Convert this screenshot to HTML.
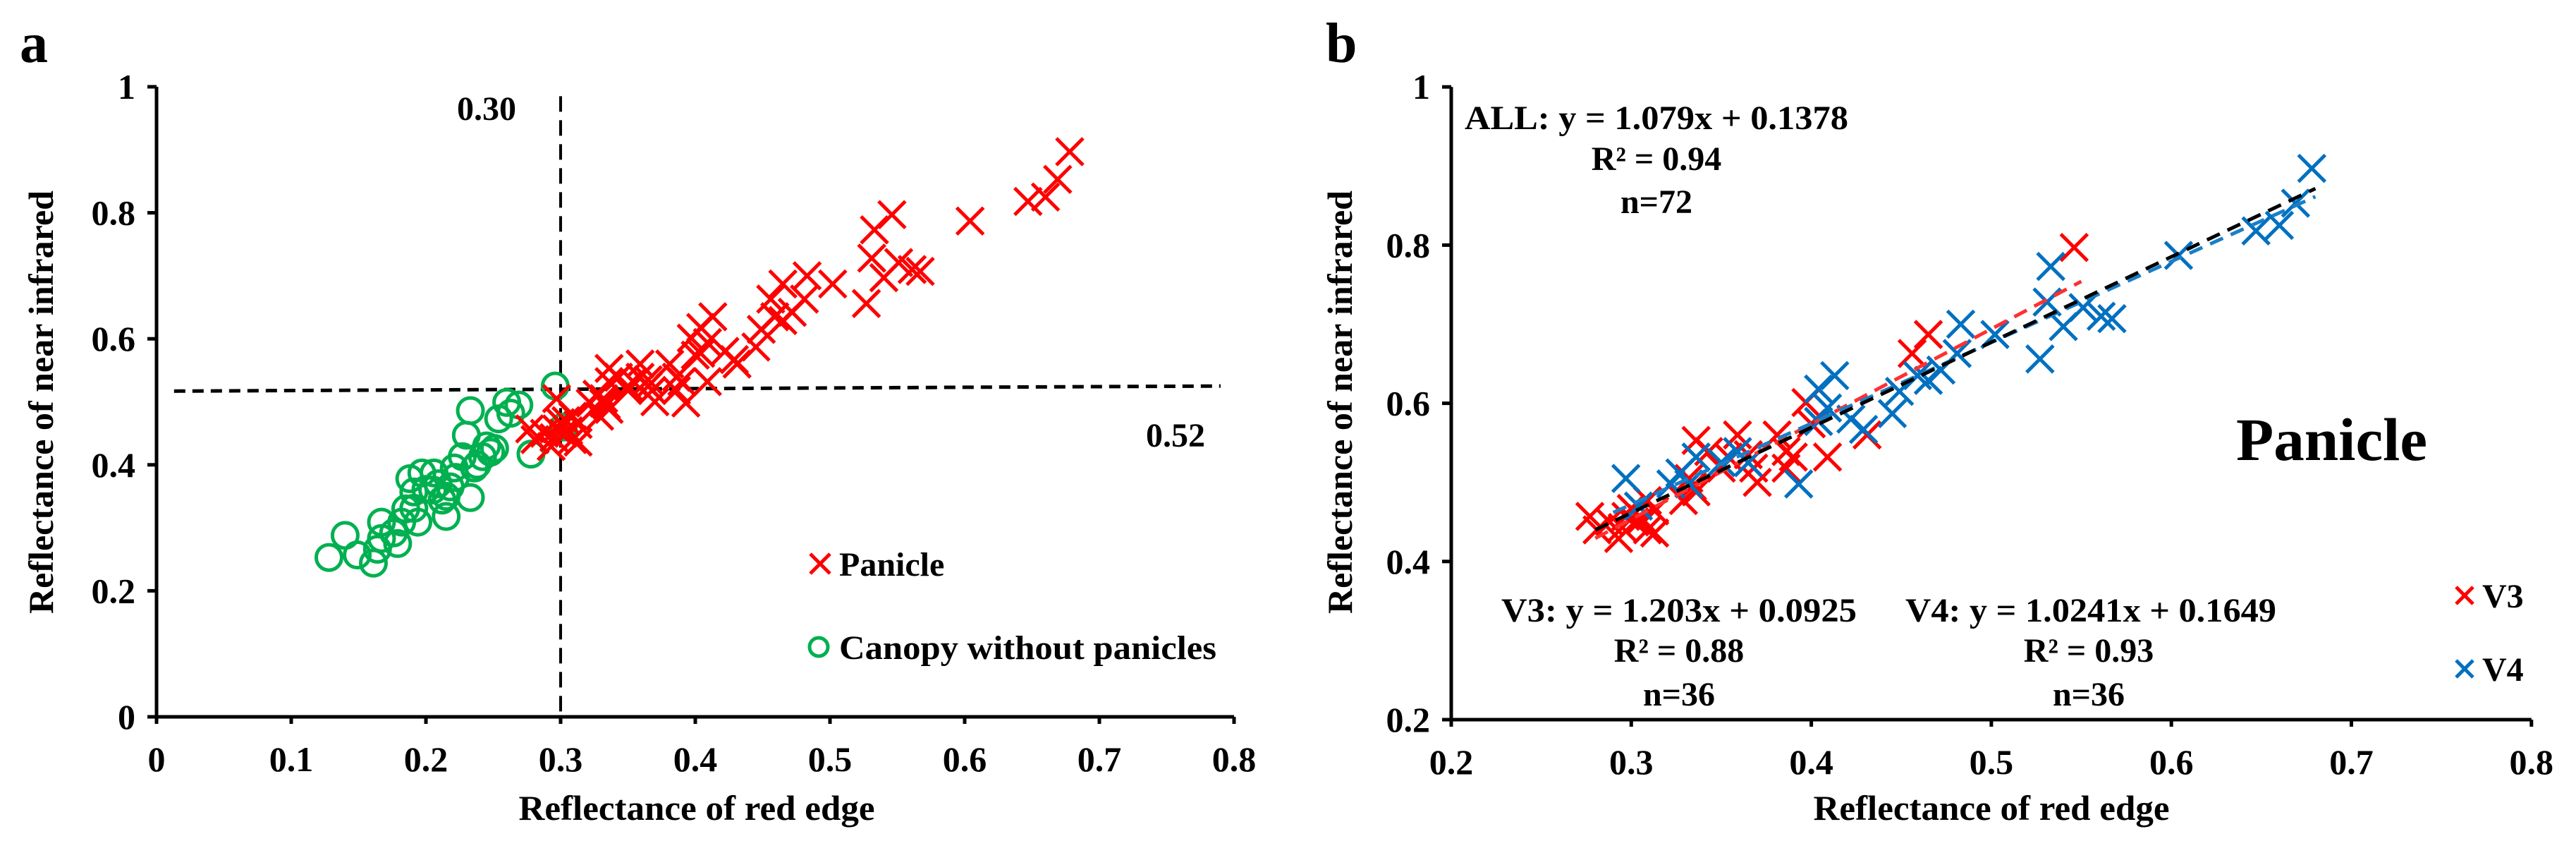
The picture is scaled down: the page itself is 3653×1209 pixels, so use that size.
<!DOCTYPE html>
<html><head><meta charset="utf-8"><style>
html,body{margin:0;padding:0;background:#fff;}
svg{display:block;}
text{font-family:"Liberation Serif",serif;font-weight:bold;fill:#000;}
</style></head><body>
<svg id="fig" width="3653" height="1209" viewBox="0 0 3653 1209">
  <g id="pa"></g>
  <g id="pb"></g>
</svg>
<script>
// ---- data ----
const v3x = [0.546,0.465,0.456,0.397,0.381,0.386,0.39,0.409,0.431,0.359,0.354,0.368,0.37,0.336,0.332,0.336,0.329,0.309,0.30,0.302,0.309,0.313,0.295,0.293,0.288,0.277,0.281,0.343,0.40,0.365,0.297,0.306,0.35,0.334,0.386,0.313];
const v3y = [0.797,0.687,0.663,0.601,0.56,0.539,0.532,0.532,0.56,0.56,0.532,0.518,0.50,0.553,0.505,0.488,0.477,0.477,0.467,0.45,0.44,0.436,0.443,0.429,0.45,0.457,0.44,0.539,0.574,0.535,0.457,0.454,0.518,0.495,0.518,0.464];
const v4x = [0.678,0.669,0.66,0.647,0.604,0.533,0.531,0.54,0.527,0.551,0.561,0.567,0.502,0.483,0.481,0.472,0.465,0.459,0.449,0.445,0.413,0.404,0.409,0.404,0.422,0.429,0.393,0.359,0.365,0.35,0.336,0.327,0.332,0.297,0.304,0.322];
const v4y = [0.897,0.853,0.825,0.818,0.787,0.773,0.728,0.697,0.656,0.721,0.71,0.707,0.687,0.70,0.663,0.642,0.629,0.635,0.615,0.587,0.635,0.618,0.594,0.577,0.58,0.567,0.498,0.539,0.525,0.525,0.532,0.512,0.498,0.505,0.47,0.498];
const canX = [0.128,0.14,0.149,0.161,0.164,0.167,0.167,0.176,0.179,0.182,0.188,0.191,0.194,0.191,0.2,0.206,0.212,0.215,0.218,0.221,0.227,0.23,0.233,0.233,0.236,0.242,0.245,0.251,0.254,0.26,0.263,0.269,0.278,0.296,0.302,0.209,0.197,0.185,0.222,0.238,0.248,0.215,0.205];
const canY = [0.253,0.288,0.257,0.244,0.266,0.309,0.283,0.292,0.275,0.309,0.378,0.357,0.309,0.331,0.361,0.387,0.344,0.318,0.365,0.395,0.413,0.447,0.486,0.348,0.395,0.413,0.43,0.426,0.473,0.499,0.482,0.495,0.417,0.525,0.46,0.37,0.387,0.33,0.38,0.40,0.42,0.35,0.36];
const xTicksA = [0,0.1,0.2,0.3,0.4,0.5,0.6,0.7,0.8];
const yTicksA = [0,0.2,0.4,0.6,0.8,1];
const xTicksB = [0.2,0.3,0.4,0.5,0.6,0.7,0.8];
const yTicksB = [0.2,0.4,0.6,0.8,1];
const fitAll = [1.079,0.1378];
const fitV3 = [1.203,0.0925];
const fitV4 = [1.0241,0.1649];

const NS = "http://www.w3.org/2000/svg";
function mk(parent, tag, attrs, txt){
  const e = document.createElementNS(NS, tag);
  for (const k in attrs) e.setAttribute(k, attrs[k]);
  if (txt !== undefined) e.textContent = txt;
  parent.appendChild(e);
  return e;
}
function fmt(v){ return (v===0||v===1) ? String(v) : v.toFixed(1); }

function axes(g, X, Y, xt, yt, x0, x1, y0, y1){
  let e;
  e = mk(g,'line',{x1:X(x0),y1:Y(y0),x2:X(x1),y2:Y(y0),stroke:'#000','stroke-width':5});
   
  e = mk(g,'line',{x1:X(x0),y1:Y(y0),x2:X(x0),y2:Y(y1),stroke:'#000','stroke-width':5});
   
  xt.forEach(v=>{
    mk(g,'line',{x1:X(v),y1:Y(y0),x2:X(v),y2:Y(y0)+10,stroke:'#000','stroke-width':5});
    e = mk(g,'text',{x:X(v),y:Y(y0)+77,'font-size':50,'text-anchor':'middle'},fmt(v));
     
  });
  yt.forEach(v=>{
    mk(g,'line',{x1:X(x0)-13,y1:Y(v),x2:X(x0),y2:Y(v),stroke:'#000','stroke-width':5});
    e = mk(g,'text',{x:X(x0)-30,y:Y(v)+17,'font-size':50,'text-anchor':'end'},fmt(v));
     
  });
}
function cross(g, cx, cy, col){
  const p = mk(g,'path',{d:`M${cx-19},${cy-19}L${cx+19},${cy+19}M${cx+19},${cy-19}L${cx-19},${cy+19}`,stroke:col,'stroke-width':5,fill:'none'});
  return p;
}

// ---- panel a ----
(function(){
  const g = document.getElementById('pa');
  const X = v => 222 + v*1910;
  const Y = v => 1016 - v*893;
  axes(g,X,Y,xTicksA,yTicksA,0,0.8,0,1);
  let e;
  e = mk(g,'line',{x1:X(0.3),y1:Y(0.985),x2:X(0.3),y2:Y(0),stroke:'#000','stroke-width':4,'stroke-dasharray':'22,12'});
   
  e = mk(g,'line',{x1:X(0.013),y1:Y(0.517),x2:X(0.79),y2:Y(0.525),stroke:'#000','stroke-width':5,'stroke-dasharray':'16,10'});
   
  canX.forEach((x,i)=>{
    const c = mk(g,'circle',{cx:X(x),cy:Y(canY[i]),r:18,fill:'none',stroke:'#00b050','stroke-width':5});
     
  });
  v3x.concat(v4x).forEach((x,i)=>{
    const y = v3y.concat(v4y)[i];
    const p = cross(g,X(x),Y(y),'#ff0000');
     
  });
  e = mk(g,'text',{x:690,y:170,'font-size':48,'text-anchor':'middle'},'0.30');
   
  e = mk(g,'text',{x:1667,y:633,'font-size':48,'text-anchor':'middle'},'0.52');
   
  e = mk(g,'path',{d:'M1149,785L1177,813M1177,785L1149,813',stroke:'#ff0000','stroke-width':5,fill:'none'});
   
  e = mk(g,'text',{x:1190,y:816,'font-size':48},'Panicle');
   
  e = mk(g,'circle',{cx:1161,cy:917,r:13,fill:'none',stroke:'#00b050','stroke-width':5});
   
  e = mk(g,'text',{x:1190,y:934,'font-size':48,textLength:535,lengthAdjust:'spacingAndGlyphs'},'Canopy without panicles');
   
  e = mk(g,'text',{x:988,y:1162,'font-size':50,'text-anchor':'middle',textLength:505,lengthAdjust:'spacingAndGlyphs'},'Reflectance of red edge');
   
  e = mk(g,'text',{x:0,y:0,'font-size':50,'text-anchor':'middle',textLength:600,lengthAdjust:'spacingAndGlyphs',transform:'translate(75,570) rotate(-90)'},'Reflectance of near infrared');
   
  e = mk(g,'text',{x:28,y:88,'font-size':80},'a');
   
})();

// ---- panel b ----
(function(){
  const g = document.getElementById('pb');
  const X = v => 2058 + (v-0.2)*2553;
  const Y = v => 1020 - (v-0.2)*1121;
  axes(g,X,Y,xTicksB,yTicksB,0.2,0.8,0.2,1);
  let e;
  v3x.forEach((x,i)=>{
    const p = cross(g,X(x),Y(v3y[i]),'#ff0000');
     
  });
  v4x.forEach((x,i)=>{
    const p = cross(g,X(x),Y(v4y[i]),'#0070c0');
     
  });
  e = mk(g,'line',{x1:X(0.28),y1:Y(fitV3[0]*0.28+fitV3[1]),x2:X(0.55),y2:Y(fitV3[0]*0.55+fitV3[1]),stroke:'#ff3030','stroke-width':5,'stroke-dasharray':'20,12'});
   
  e = mk(g,'line',{x1:X(0.29),y1:Y(fitV4[0]*0.29+fitV4[1]),x2:X(0.68),y2:Y(fitV4[0]*0.68+fitV4[1]),stroke:'#1a7fc8','stroke-width':5,'stroke-dasharray':'20,12'});
   
  e = mk(g,'line',{x1:X(0.28),y1:Y(fitAll[0]*0.28+fitAll[1]),x2:X(0.68),y2:Y(fitAll[0]*0.68+fitAll[1]),stroke:'#000','stroke-width':5,'stroke-dasharray':'20,12'});
   
  const T = (x,y,s,name,anchor,len,fs) => {
    const a = {x:x,y:y,'font-size':fs||48,'text-anchor':anchor||'middle'};
    if (len){ a.textLength=len; a.lengthAdjust='spacingAndGlyphs'; }
    const t = mk(g,'text',a,s);
     
    return t;
  };
  T(2077,183,'ALL: y = 1.079x + 0.1378','all-equation','start',544);
  T(2349,241,'R² = 0.94','all-r2');
  T(2349,302,'n=72','all-n');
  T(2129,881,'V3: y = 1.203x + 0.0925','v3-equation','start',504);
  T(2381,938,'R² = 0.88','v3-r2');
  T(2381,1000,'n=36','v3-n');
  T(2702,881,'V4: y = 1.0241x + 0.1649','v4-equation','start',526);
  T(2962,938,'R² = 0.93','v4-r2');
  T(2962,1000,'n=36','v4-n');
  T(3171,652,'Panicle','panicle-title','start',271,86);
  e = mk(g,'path',{d:'M3483,832L3507,856M3507,832L3483,856',stroke:'#ff0000','stroke-width':5,fill:'none'});
   
  T(3520,861,'V3','legend-v3','start');
  e = mk(g,'path',{d:'M3483,936L3507,960M3507,936L3483,960',stroke:'#0070c0','stroke-width':5,fill:'none'});
   
  T(3520,965,'V4','legend-v4','start');
  T(2824,1162,'Reflectance of red edge','x-axis-title','middle',505,50);
  e = mk(g,'text',{x:0,y:0,'font-size':50,'text-anchor':'middle',textLength:600,lengthAdjust:'spacingAndGlyphs',transform:'translate(1917,570) rotate(-90)'},'Reflectance of near infrared');
   
  T(1880,88,'b','panel-label-b','start',null,80);
})();
</script>
</body></html>
